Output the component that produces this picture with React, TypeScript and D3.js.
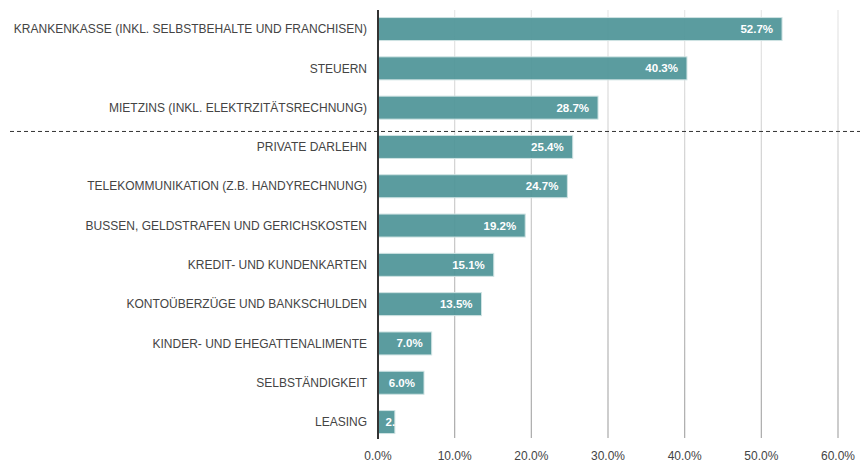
import React from "react";
import * as d3 from "d3";

const categories = [
  "KRANKENKASSE (INKL. SELBSTBEHALTE UND FRANCHISEN)",
  "STEUERN",
  "MIETZINS (INKL. ELEKTRZITÄTSRECHNUNG)",
  "PRIVATE DARLEHN",
  "TELEKOMMUNIKATION (Z.B. HANDYRECHNUNG)",
  "BUSSEN, GELDSTRAFEN UND GERICHSKOSTEN",
  "KREDIT- UND KUNDENKARTEN",
  "KONTOÜBERZÜGE UND BANKSCHULDEN",
  "KINDER- UND EHEGATTENALIMENTE",
  "SELBSTÄNDIGKEIT",
  "LEASING",
];
const values = [52.7, 40.3, 28.7, 25.4, 24.7, 19.2, 15.1, 13.5, 7.0, 6.0, 2.2];
const ticks = [0, 10, 20, 30, 40, 50, 60];
const separatorBefore = "PRIVATE DARLEHN";

const W = 860;
const H = 462;

export default function App() {
  const x = d3.scaleLinear().domain([0, 60]).range([378, 838]);
  const y = d3
    .scaleBand<string>()
    .domain(categories)
    .range([9.4, 441.7])
    .paddingInner(0.415)
    .paddingOuter(0.2075);
  const font = "'Liberation Sans', Arial, sans-serif";
  const sepY = (y(separatorBefore) as number) - 4;
  const fmt = (v: number) => v.toFixed(1) + "%";

  return (
    <svg
      width={W}
      height={H}
      style={{ position: "absolute", left: 0, top: 0, display: "block" }}
      fontFamily={font}
    >
      <defs>
        <linearGradient id="gridGrad" gradientUnits="userSpaceOnUse" x1="0" y1="10" x2="0" y2="438">
          <stop offset="0" stopColor="#e8e8e8" />
          <stop offset="1" stopColor="#a8a8a8" />
        </linearGradient>
        {categories.map((c, i) => (
          <clipPath id={"clip" + i} key={c}>
            <rect x={x(0)} y={y(c)} width={x(values[i]) - x(0) + 0.5} height={y.bandwidth()} />
          </clipPath>
        ))}
      </defs>
      {ticks.slice(1).map((t) => (
        <line key={t} x1={x(t)} x2={x(t)} y1={10} y2={438} stroke="url(#gridGrad)" strokeWidth={1.2} />
      ))}
      {categories.map((c, i) => {
        const x0 = x(0);
        const x1 = x(values[i]);
        const yy = y(c) as number;
        const bw = y.bandwidth();
        const textW = 30;
        const small = x1 - x0 < textW + 16;
        return (
          <g key={c}>
            <rect
              x={x0}
              y={yy}
              width={x1 - x0}
              height={bw}
              fill="#4f9598"
              fillOpacity={0.93}
              stroke="#cfe3e3"
              strokeWidth={1}
            />
            <text
              x={x0 - 11}
              y={yy + bw / 2}
              dy="0.35em"
              textAnchor="end"
              fontSize={12}
              fill="#444"
            >
              {c}
            </text>
            <text
              x={small ? x0 + 7.5 : x1 - 9}
              y={yy + bw / 2}
              dy="0.35em"
              textAnchor={small ? "start" : "end"}
              fontSize={11.5}
              fontWeight="bold"
              fill="#fff"
              clipPath={`url(#clip${i})`}
            >
              {fmt(values[i])}
            </text>
          </g>
        );
      })}
      <line x1={x(0)} x2={x(0)} y1={10} y2={439} stroke="#333" strokeWidth={2} />
      <line x1={10} x2={860} y1={sepY} y2={sepY} stroke="#333" strokeWidth={1} strokeDasharray="4,3" />
      {ticks.map((t) => (
        <text key={t} x={x(t)} y={456} dy="0.35em" textAnchor="middle" fontSize={12} fill="#444">
          {t.toFixed(1) + "%"}
        </text>
      ))}
    </svg>
  );
}
